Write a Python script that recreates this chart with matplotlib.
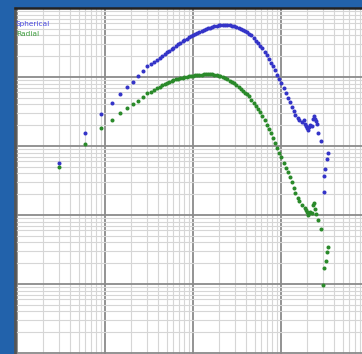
import numpy as np
import matplotlib
matplotlib.use("Agg")
import matplotlib.pyplot as plt
from matplotlib import ticker

# Elapsed time (hr) and pressure-derivative responses
time = [0.003, 0.006, 0.009, 0.012, 0.015, 0.018, 0.021, 0.024, 0.027, 0.030,
        0.033, 0.036, 0.039, 0.042, 0.045, 0.048, 0.051, 0.054, 0.057, 0.060,
        0.064, 0.068, 0.072, 0.076, 0.080, 0.085, 0.090, 0.095, 0.100,
        0.106, 0.112, 0.118, 0.125, 0.132, 0.140, 0.148, 0.156, 0.165, 0.175,
        0.185, 0.195, 0.205, 0.22, 0.23, 0.245, 0.26, 0.275, 0.29,
        0.31, 0.33, 0.35, 0.37, 0.39, 0.41, 0.43, 0.46, 0.49, 0.52, 0.55,
        0.58, 0.61, 0.65, 0.69, 0.73, 0.77, 0.81, 0.86, 0.91, 0.96, 1.01,
        1.07, 1.13, 1.19, 1.25, 1.32, 1.39, 1.46, 1.54, 1.62]

spherical = [5.67, 15.4, 29.1, 42.0, 56.7, 71.6, 84.7, 103, 122, 142,
             152, 163, 176, 189, 202, 215, 228, 241, 254, 266,
             281, 298, 313, 327, 341, 359, 376, 393, 406,
             420, 433, 446, 461, 477, 493, 510, 520, 530, 541,
             550, 558, 563, 567, 567, 565, 559, 552, 541,
             530, 516, 500, 482, 464, 445, 426, 401, 371, 338, 309,
             283, 260, 232, 205, 180, 161, 142, 125, 108, 94.2, 81.8,
             69.3, 58.2, 49.6, 42.9, 36.7, 31.9, 28.3, 25.6, 23.6]

radial = [4.96, 10.7, 18.2, 23.8, 30.1, 35.6, 40.6, 44.9, 51.3, 58.6,
          61.4, 65.4, 69.3, 72.6, 75.8, 79.2, 82.1, 85.2, 88.4, 91.1,
          92.9, 94.8, 96.4, 98.0, 99.3, 101, 103, 104, 105,
          106, 107, 108, 108, 109, 110, 110, 110, 109, 108,
          106, 104, 102, 98.4, 95.8, 92.0, 88.1, 84.1, 80.8,
          76.6, 71.9, 67.7, 63.5, 59.6, 55.8, 52.2, 47.0, 42.3, 38.2, 34.1,
          30.8, 27.4, 23.7, 20.4, 17.6, 15.3, 13.2, 11.2, 9.42, 8.03, 6.84,
          5.73, 4.85, 4.16, 3.58, 2.99, 2.47, 2.08, 1.77, 1.58]

# Late-time scattered points
tail_time_spherical = [1.73, 1.83, 1.87, 1.92, 1.98, 2.03, 2.08, 2.14, 2.25,
                       2.31, 2.37, 2.43, 2.50, 2.57, 2.63, 2.85, 3.42, 3.33,
                       3.16, 3.08, 3.08]
tail_spherical = [22.3, 23.8, 20.8, 19.5, 18.2, 17.1, 18.9, 20.2, 19.5,
                  24.6, 27.2, 24.6, 23.0, 20.8, 15.4, 11.8, 7.92, 6.48,
                  4.64, 3.67, 2.15]

tail_time_radial = [1.73, 1.87, 1.92, 1.98, 2.03, 2.08, 2.14, 2.25, 2.31,
                    2.37, 2.43, 2.50, 2.63, 2.85, 3.42, 3.33, 3.25, 3.08, 3.00]
tail_radial = [1.40, 1.26, 1.18, 1.11, 1.00, 1.07, 1.11, 1.07, 1.40,
               1.49, 1.22, 1.03, 0.846, 0.627, 0.344, 0.291, 0.215, 0.171,
               0.0967]

series_names = ["Spherical", "Radial"]
series_colors = ["#3434c8", "#2a8a2a"]

W, H, DPI = 362, 354, 100
fig = plt.figure(figsize=(W / DPI, H / DPI), dpi=DPI)
fig.patch.set_facecolor("#2262ab")

left, top = 15, 8
ax = fig.add_axes([left / W, 0, 1 - left / W, (H - top) / H])
ax.set_facecolor("white")
ax.set_xscale("log")
ax.set_yscale("log")
ax.set_xlim(10 ** (-3 - 2 / 88), 10 ** (-3 + 345 / 88))
ax.set_ylim(10 ** ((215 - 354) / 69), 1000)

ax.xaxis.set_major_locator(ticker.LogLocator(base=10, numticks=20))
ax.yaxis.set_major_locator(ticker.LogLocator(base=10, numticks=20))
ax.xaxis.set_minor_locator(ticker.LogLocator(base=10, subs=np.arange(2, 10), numticks=100))
ax.yaxis.set_minor_locator(ticker.LogLocator(base=10, subs=np.arange(2, 10), numticks=100))
ax.tick_params(which="both", length=0, labelbottom=False, labelleft=False)

ax.set_axisbelow(True)
ax.grid(which="minor", color="#d6d6d6", linewidth=0.8)
ax.grid(which="major", color="#8a8a8a", linewidth=1.3)

for side in ("right", "bottom"):
    ax.spines[side].set_visible(False)
ax.spines["left"].set_color("#555555")
ax.spines["left"].set_linewidth(2.0)
ax.spines["top"].set_color("#222222")
ax.spines["top"].set_linewidth(1.8)

mk = dict(linestyle="none", marker="o", markersize=2.9, markeredgewidth=0)
ax.plot(time, spherical, color=series_colors[0], **mk)
ax.plot(tail_time_spherical, tail_spherical, color=series_colors[0], **mk)
ax.plot(time, radial, color=series_colors[1], **mk)
ax.plot(tail_time_radial, tail_radial, color=series_colors[1], **mk)

# Colored series labels in the top-left corner
fig.text(16 / W, 1 - 24 / H, series_names[0], color="#4a4ae0", fontsize=5.3,
         va="center", ha="left")
fig.text(16 / W, 1 - 34 / H, series_names[1], color="#3c9c3c", fontsize=5.3,
         va="center", ha="left")

fig.savefig("out.png", dpi=DPI, facecolor=fig.get_facecolor())
